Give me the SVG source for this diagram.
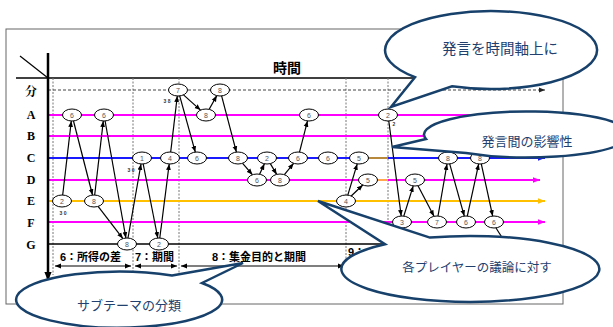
<svg xmlns="http://www.w3.org/2000/svg" width="613" height="327" viewBox="0 0 613 327">
<defs>
<style>
.nd ellipse{fill:#fff;stroke:#000;stroke-width:1}
.nd text{font-family:"Liberation Sans",Arial,sans-serif;font-size:7px;fill:#555;text-anchor:middle}
.cn line{stroke:#000;stroke-width:1.2;marker-end:url(#ah)}
.row{font-family:"Liberation Serif","Noto Serif CJK JP","Noto Sans CJK JP",serif;font-size:12px;font-weight:bold;fill:#000;text-anchor:middle}
.dot{stroke:#777;stroke-width:1;stroke-dasharray:2 1.5}
.mg{stroke:#ff00ff;stroke-width:2}
.bl{stroke:#1a1aff;stroke-width:2}
.yl{stroke:#ffc000;stroke-width:2}
.sm{font-family:"Liberation Sans",Arial,sans-serif;font-size:5px;font-weight:bold;fill:#333;text-anchor:middle}
.sec{font-family:"Liberation Sans","Noto Sans CJK JP",sans-serif;font-size:11px;font-weight:bold;fill:#000}
.br{stroke:#000;stroke-width:1.2;marker-start:url(#ab);marker-end:url(#ab)}
.bub path{fill:#fff;stroke:#17406b;stroke-width:2.5}
.bub text{font-family:"Noto Sans CJK JP",sans-serif;fill:#22406e;text-anchor:middle}
</style>
<marker id="ah" viewBox="0 0 10 10" refX="10" refY="5" markerWidth="6" markerHeight="6" markerUnits="userSpaceOnUse" orient="auto"><path d="M0,1 L10,5 L0,9 Z" fill="#000"/></marker>
<marker id="ab" viewBox="0 0 10 10" refX="10" refY="5" markerWidth="6" markerHeight="6" markerUnits="userSpaceOnUse" orient="auto-start-reverse"><path d="M0,1 L10,5 L0,9 Z" fill="#000"/></marker>
<marker id="am" viewBox="0 0 10 10" refX="10" refY="5" markerWidth="7" markerHeight="7" markerUnits="userSpaceOnUse" orient="auto"><path d="M0,1 L10,5 L0,9 Z" fill="#ff00ff"/></marker>
<marker id="abl" viewBox="0 0 10 10" refX="10" refY="5" markerWidth="7" markerHeight="7" markerUnits="userSpaceOnUse" orient="auto"><path d="M0,1 L10,5 L0,9 Z" fill="#1a1aff"/></marker>
<marker id="ay" viewBox="0 0 10 10" refX="10" refY="5" markerWidth="7" markerHeight="7" markerUnits="userSpaceOnUse" orient="auto"><path d="M0,1 L10,5 L0,9 Z" fill="#ffc000"/></marker>
<marker id="ad" viewBox="0 0 10 10" refX="10" refY="5" markerWidth="6" markerHeight="6" markerUnits="userSpaceOnUse" orient="auto"><path d="M0,1 L10,5 L0,9 Z" fill="#222"/></marker>
<marker id="ax" viewBox="0 0 10 10" refX="10" refY="5" markerWidth="9" markerHeight="9" markerUnits="userSpaceOnUse" orient="auto"><path d="M0,1 L10,5 L0,9 Z" fill="#000"/></marker>
</defs>
<rect width="613" height="327" fill="#fff"/>
<g id="frame">
<rect x="6" y="29" width="557" height="275" fill="none" stroke="#666" stroke-width="1"/>
<line x1="16" y1="78" x2="563" y2="78" stroke="#000" stroke-width="1.5"/>
<line x1="20" y1="56" x2="48" y2="78" stroke="#000" stroke-width="1.2"/>
<text x="287" y="73" font-family="Noto Sans CJK JP,sans-serif" font-size="14" font-weight="bold" text-anchor="middle">時間</text>
</g>
<g id="grid">
<line class="dot" x1="53" y1="78" x2="53" y2="275"/>
<line class="dot" x1="133" y1="78" x2="133" y2="275"/>
<line class="dot" x1="179" y1="78" x2="179" y2="275"/>
<line class="dot" x1="346" y1="78" x2="346" y2="275"/>
<line class="dot" x1="388" y1="78" x2="388" y2="275"/>
<line x1="48" y1="90" x2="545" y2="90" stroke="#444" stroke-width="1" stroke-dasharray="3 2" marker-end="url(#ad)"/>
</g>
<g id="rows">
<line class="mg" x1="48" y1="115" x2="545" y2="115" marker-end="url(#am)"/>
<line class="mg" x1="48" y1="136" x2="440" y2="136"/>
<line class="bl" x1="48" y1="158" x2="545" y2="158" marker-end="url(#abl)"/>
<line x1="366" y1="158" x2="388" y2="158" stroke="#b8893a" stroke-width="2"/>
<line class="mg" x1="48" y1="180" x2="540" y2="180" marker-end="url(#am)"/>
<line x1="376" y1="180" x2="388" y2="180" stroke="#ffa850" stroke-width="2"/>
<line class="yl" x1="48" y1="201" x2="545" y2="201" marker-end="url(#ay)"/>
<line class="mg" x1="48" y1="222" x2="545" y2="222" marker-end="url(#am)"/>
<line x1="48" y1="244" x2="500" y2="244" stroke="#000" stroke-width="1.5"/>
<line x1="48" y1="53" x2="48" y2="281" stroke="#000" stroke-width="2.5" marker-end="url(#ax)"/>
<text class="row" x="31" y="96" font-family="Noto Sans CJK JP,sans-serif" font-size="11">分</text>
<text class="row" x="31" y="119">A</text>
<text class="row" x="31" y="140">B</text>
<text class="row" x="31" y="162">C</text>
<text class="row" x="31" y="184">D</text>
<text class="row" x="31" y="205">E</text>
<text class="row" x="31" y="227">F</text>
<text class="row" x="31" y="249">G</text>
</g>
<g id="sections">
<line class="br" x1="55" y1="266" x2="131" y2="266"/>
<line class="br" x1="135" y1="266" x2="177" y2="266"/>
<line class="br" x1="181" y1="266" x2="344" y2="266"/>
<line class="br" x1="348" y1="266" x2="420" y2="266"/>
<text class="sec" x="60" y="261">6：所得の差</text>
<text class="sec" x="135" y="261">7：期間</text>
<text class="sec" x="212" y="261">8：集金目的と期間</text>
<text class="sec" x="348" y="256">9：</text>
</g>
<g id="connectors" class="cn">
<line x1="62.7" y1="195" x2="71.3" y2="121"/>
<line x1="73.5" y1="121" x2="92.5" y2="195"/>
<line x1="94.7" y1="195" x2="103.3" y2="121"/>
<line x1="105.1" y1="121" x2="125.9" y2="238"/>
<line x1="98.1" y1="206.4" x2="122.9" y2="238.6"/>
<line x1="128" y1="238" x2="141" y2="164"/>
<line x1="143.2" y1="164" x2="157.8" y2="238"/>
<line x1="159.8" y1="238" x2="169.2" y2="164"/>
<line x1="170.7" y1="152" x2="177.3" y2="96"/>
<line x1="183.5" y1="94.9" x2="200.5" y2="110.1"/>
<line x1="179.7" y1="95.9" x2="195.3" y2="152.1"/>
<line x1="209.2" y1="109.3" x2="216.8" y2="95.6"/>
<line x1="221.6" y1="95.9" x2="236.4" y2="152.1"/>
<line x1="242.6" y1="163.3" x2="252.4" y2="174.7"/>
<line x1="259.6" y1="174.2" x2="264.4" y2="163.8"/>
<line x1="270.3" y1="163.6" x2="276.7" y2="174.4"/>
<line x1="284.4" y1="174.7" x2="293.6" y2="163.3"/>
<line x1="299.5" y1="152.1" x2="307.5" y2="120.9"/>
<line x1="347.8" y1="195.1" x2="357.2" y2="163.9"/>
<line x1="351.2" y1="196" x2="362.8" y2="185"/>
<line x1="388.8" y1="121" x2="401.2" y2="216"/>
<line x1="403.8" y1="216.1" x2="413.2" y2="185.9"/>
<line x1="418" y1="185.7" x2="434" y2="216.3"/>
<line x1="438" y1="216" x2="447" y2="164"/>
<line x1="449.7" y1="163.9" x2="464.3" y2="216.1"/>
<line x1="467.3" y1="216.1" x2="478.7" y2="163.9"/>
<line x1="481.3" y1="163.9" x2="492.7" y2="216.1"/>
<line x1="496" y1="228" x2="510" y2="250" style="marker-end:none"/>
</g>
<g id="n1" class="nd"><ellipse cx="62" cy="201" rx="9.5" ry="6"/><text x="62" y="203.5">2</text></g>
<g id="n2" class="nd"><ellipse cx="72" cy="115" rx="9.5" ry="6"/><text x="72" y="117.5">6</text></g>
<g id="n3" class="nd"><ellipse cx="94" cy="201" rx="9.5" ry="6"/><text x="94" y="203.5">8</text></g>
<g id="n4" class="nd"><ellipse cx="104" cy="115" rx="9.5" ry="6"/><text x="104" y="117.5">6</text></g>
<g id="n5" class="nd"><ellipse cx="127" cy="244" rx="9.5" ry="6"/><text x="127" y="246.5">8</text></g>
<g id="n6" class="nd"><ellipse cx="142" cy="158" rx="9.5" ry="6"/><text x="142" y="160.5">1</text></g>
<g id="n7" class="nd"><ellipse cx="159" cy="244" rx="9.5" ry="6"/><text x="159" y="246.5">2</text></g>
<g id="n8" class="nd"><ellipse cx="170" cy="158" rx="9.5" ry="6"/><text x="170" y="160.5">4</text></g>
<g id="n9" class="nd"><ellipse cx="178" cy="90" rx="9.5" ry="6"/><text x="178" y="92.5">7</text></g>
<g id="n10" class="nd"><ellipse cx="206" cy="115" rx="9.5" ry="6"/><text x="206" y="117.5">8</text></g>
<g id="n11" class="nd"><ellipse cx="197" cy="158" rx="9.5" ry="6"/><text x="197" y="160.5">6</text></g>
<g id="n12" class="nd"><ellipse cx="220" cy="90" rx="9.5" ry="6"/><text x="220" y="92.5">8</text></g>
<g id="n13" class="nd"><ellipse cx="238" cy="158" rx="9.5" ry="6"/><text x="238" y="160.5">8</text></g>
<g id="n14" class="nd"><ellipse cx="257" cy="180" rx="9.5" ry="6"/><text x="257" y="182.5">6</text></g>
<g id="n15" class="nd"><ellipse cx="267" cy="158" rx="9.5" ry="6"/><text x="267" y="160.5">2</text></g>
<g id="n16" class="nd"><ellipse cx="280" cy="180" rx="9.5" ry="6"/><text x="280" y="182.5">8</text></g>
<g id="n17" class="nd"><ellipse cx="298" cy="158" rx="9.5" ry="6"/><text x="298" y="160.5">6</text></g>
<g id="n18" class="nd"><ellipse cx="309" cy="115" rx="9.5" ry="6"/><text x="309" y="117.5">6</text></g>
<g id="n19" class="nd"><ellipse cx="328" cy="158" rx="9.5" ry="6"/><text x="328" y="160.5">6</text></g>
<g id="n20" class="nd"><ellipse cx="346" cy="201" rx="9.5" ry="6"/><text x="346" y="203.5">4</text></g>
<g id="n21" class="nd"><ellipse cx="359" cy="158" rx="9.5" ry="6"/><text x="359" y="160.5">5</text></g>
<g id="n22" class="nd"><ellipse cx="368" cy="180" rx="9.5" ry="6"/><text x="368" y="182.5">5</text></g>
<g id="n23" class="nd"><ellipse cx="388" cy="115" rx="9.5" ry="6"/><text x="388" y="117.5">2</text></g>
<g id="n24" class="nd"><ellipse cx="402" cy="222" rx="9.5" ry="6"/><text x="402" y="224.5">3</text></g>
<g id="n25" class="nd"><ellipse cx="415" cy="180" rx="9.5" ry="6"/><text x="415" y="182.5">5</text></g>
<g id="n26" class="nd"><ellipse cx="437" cy="222" rx="9.5" ry="6"/><text x="437" y="224.5">7</text></g>
<g id="n27" class="nd"><ellipse cx="448" cy="158" rx="9.5" ry="6"/><text x="448" y="160.5">8</text></g>
<g id="n28" class="nd"><ellipse cx="466" cy="222" rx="9.5" ry="6"/><text x="466" y="224.5">6</text></g>
<g id="n29" class="nd"><ellipse cx="480" cy="158" rx="9.5" ry="6"/><text x="480" y="160.5">8</text></g>
<g id="n30" class="nd"><ellipse cx="494" cy="222" rx="9.5" ry="6"/><text x="494" y="224.5">6</text></g>
<g id="notes">
<text class="sm" x="63" y="215">3 0</text>
<text class="sm" x="131" y="172">3 0</text>
<text class="sm" x="167" y="103">3 8</text>
<text class="sm" x="394" y="126">2</text>
</g>
<g id="callouts" class="bub">
<g id="c1"><path d="M415,77.2 L391,107 L452,86.3 A106 39 0 1 0 415,77.2 Z"/><text x="500" y="54" font-size="14.5">発言を時間軸上に</text></g>
<g id="c2"><path d="M426,139 L392,147 L466,153 A103 23 0 1 0 426,139 Z"/><text x="527" y="146" font-size="13">発言間の影響性</text></g>
<g id="c3"><path d="M430,237.6 L318,201 L385,244.2 A129 33 0 1 0 430,237.6 Z"/><text x="477" y="272" font-size="12.5">各プレイヤーの議論に対す</text></g>
<g id="c4"><path d="M172,275.6 L243,263 L202,283 A103 28 0 1 1 172,275.6 Z"/><text x="129" y="310" font-size="13">サブテーマの分類</text></g>
</g>
</svg>
